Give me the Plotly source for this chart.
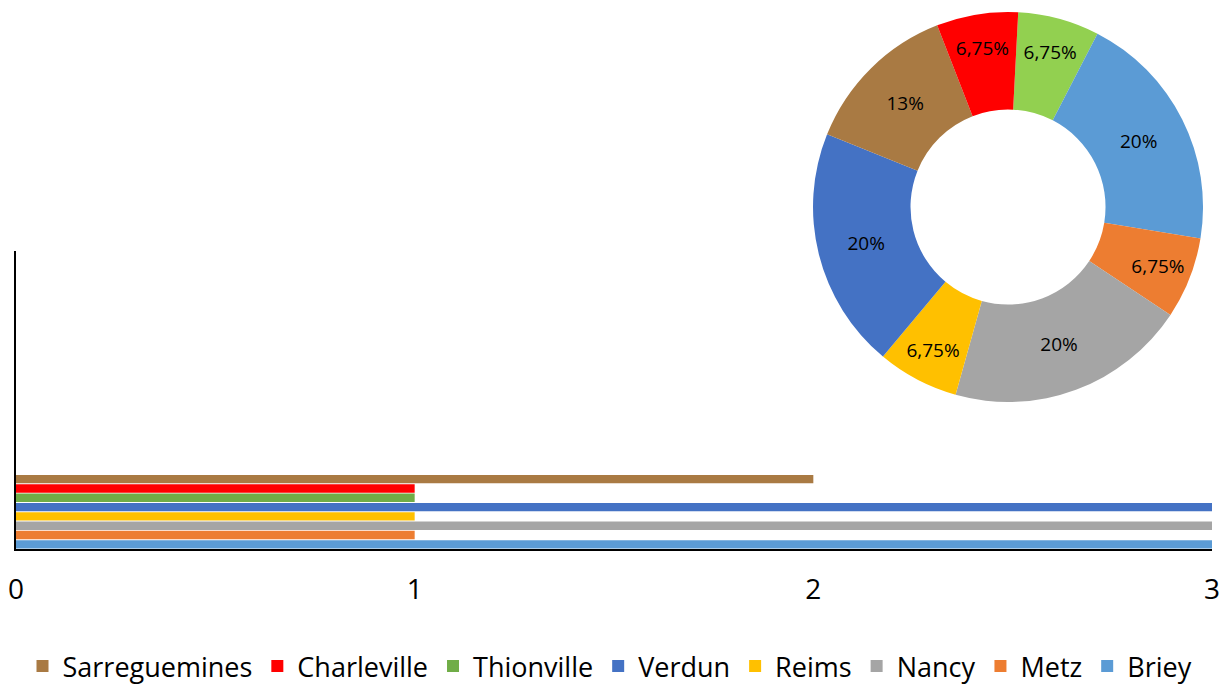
import plotly.graph_objects as go

# ---- data ----
cities = ["Briey", "Metz", "Nancy", "Reims", "Verdun", "Thionville", "Charleville", "Sarreguemines"]
bar_values = [3, 1, 3, 1, 3, 1, 1, 2]
bar_colors = ["#5B9BD5", "#ED7D31", "#A5A5A5", "#FFC000", "#4472C4", "#70AD47", "#FF0000", "#A97A43"]

pie_order = ["Thionville", "Briey", "Metz", "Nancy", "Reims", "Verdun", "Sarreguemines", "Charleville"]
pie_pct = [6.75, 20, 6.75, 20, 6.75, 20, 13, 6.75]
pie_colors = ["#92D050", "#5B9BD5", "#ED7D31", "#A5A5A5", "#FFC000", "#4472C4", "#A97A43", "#FF0000"]

x_ticks = [0, 1, 2, 3]
category = ["1"]

FONT = "Open Sans"

fig = go.Figure()

for name, val, col in zip(cities, bar_values, bar_colors):
    fig.add_trace(go.Bar(
        y=category, x=[val], orientation="h", name=name,
        marker=dict(color=col, line=dict(width=0)),
        hoverinfo="x+name",
    ))

pie_text = [f"{v:g}%".replace(".", ",") for v in pie_pct]
fig.add_trace(go.Pie(
    labels=pie_order, values=pie_pct, text=pie_text,
    textinfo="text", texttemplate="%{text}",
    sort=False, direction="clockwise", rotation=3,
    hole=0.5,
    marker=dict(colors=pie_colors, line=dict(width=0)),
    textposition="inside", insidetextorientation="horizontal",
    textfont=dict(family=FONT, size=19, color="black"),
    domain=dict(x=[0.6656, 0.9933], y=[0.2727, 0.9963]),
    showlegend=False,
))

fig.update_layout(
    width=1220, height=691, autosize=False,
    margin=dict(l=16, r=8, t=10, b=142, autoexpand=False),
    paper_bgcolor="white", plot_bgcolor="white",
    barmode="group", bargap=0, bargroupgap=0.1,
    font=dict(family=FONT, color="black"),
    uniformtext=dict(minsize=19, mode="show"),
    xaxis=dict(
        range=[0, 3], tickvals=x_ticks, showgrid=False, zeroline=False,
        showline=True, linecolor="black", linewidth=2, ticks="",
        tickfont=dict(family=FONT, size=28, color="black"),
        ticklabelstandoff=14, ticklabeloverflow="allow", automargin=False,
    ),
    yaxis=dict(
        domain=[0, 0.5529], type="category", range=[-0.5, 3.5],
        showticklabels=False, showgrid=False, zeroline=False,
        showline=True, linecolor="black", linewidth=2, ticks="",
        automargin=False,
    ),
    legend=dict(
        orientation="h", xref="container", yref="container",
        x=0.5, xanchor="center", y=0, yanchor="bottom",
        traceorder="reversed", itemwidth=30,
        font=dict(family=FONT, size=27, color="black"),
    ),
)

fig.write_html(
    "out.html",
    config={"displayModeBar": False},
    post_script="document.body.style.margin='0px';",
)
